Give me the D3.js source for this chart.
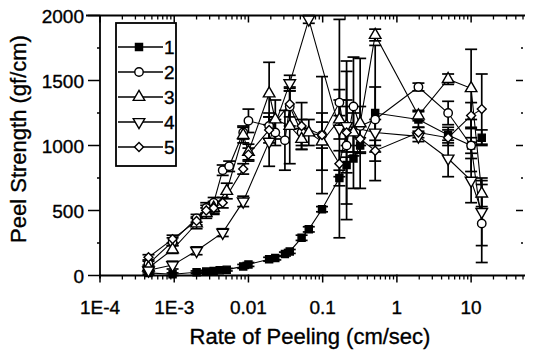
<!DOCTYPE html>
<html>
<head>
<meta charset="utf-8">
<script src="https://cdn.jsdelivr.net/npm/d3@7"></script>
<style>
  body { margin: 0; background: #fff; }
  svg { display: block; font-family: "Liberation Sans", Arial, sans-serif; }
  text { stroke: #000; stroke-width: 0.35px; }
</style>
</head>
<body>
<div id="chart"></div>
<script>
"use strict";

// Series data: rate (cm/sec), peel strength (gf/cm), error (gf/cm)
const x1 = [4.5e-4, 9.5e-4, 2e-3, 2.7e-3, 3.4e-3, 4.1e-3, 5.1e-3, 8.5e-3, 0.01, 0.019, 0.023, 0.031, 0.036, 0.052, 0.065, 0.098, 0.168, 0.21, 0.26, 0.32, 0.51, 1.95, 4.9, 10, 13.9],
  y1 = [20, 10, 25, 30, 35, 40, 45, 70, 85, 125, 135, 165, 185, 290, 355, 510, 750, 850, 900, 1000, 1250, 1200, 1080, 1000, 1060],
  e1 = [15, 10, 10, 10, 10, 10, 10, 15, 15, 15, 15, 15, 15, 20, 20, 20, 60, 60, 230, 60, 520, 60, 60, 60, 60];

const x2 = [4.5e-4, 9.5e-4, 2e-3, 2.7e-3, 3.4e-3, 4.5e-3, 5.5e-3, 8.5e-3, 0.01, 0.019, 0.023, 0.031, 0.036, 0.052, 0.098, 0.168, 0.21, 0.26, 0.32, 0.51, 1.95, 4.9, 10, 13.9],
  y2 = [90, 260, 440, 520, 560, 810, 840, 1100, 1190, 1150, 1100, 1040, 1300, 1100, 1080, 1330, 1000, 1300, 1150, 1200, 1450, 1250, 1000, 400],
  e2 = [20, 30, 30, 40, 40, 40, 40, 50, 90, 100, 100, 230, 150, 100, 100, 100, 570, 380, 150, 250, 30, 90, 200, 300];

const x3 = [4.5e-4, 9.5e-4, 2e-3, 2.7e-3, 3.4e-3, 5.1e-3, 8.5e-3, 0.01, 0.019, 0.023, 0.036, 0.052, 0.065, 0.098, 0.168, 0.21, 0.26, 0.32, 0.51, 1.95, 4.9, 10, 13.9],
  y3 = [60, 200, 400, 480, 520, 650, 1080, 950, 1400, 1200, 1150, 1050, 1100, 1030, 1200, 1150, 1100, 1170, 1850, 1230, 1510, 1440, 630],
  e3 = [20, 30, 40, 40, 50, 60, 60, 60, 240, 150, 290, 80, 100, 220, 150, 150, 150, 500, 45, 40, 40, 300, 100];

const x4 = [4.5e-4, 9.5e-4, 2e-3, 4.5e-3, 8.5e-3, 0.019, 0.036, 0.065, 0.168, 0.21, 0.51, 1.95, 4.9, 10, 13.9],
  y4 = [40, 80, 190, 330, 570, 1030, 1480, 1970, 1130, 1150, 1100, 1070, 900, 730, 490],
  e4 = [20, 30, 30, 30, 40, 190, 60, 30, 840, 200, 100, 40, 140, 170, 260];

const x5 = [4.5e-4, 9.5e-4, 2e-3, 2.7e-3, 3.4e-3, 4.5e-3, 8.5e-3, 0.01, 0.019, 0.036, 0.052, 0.098, 0.168, 0.21, 0.32, 0.51, 1.95, 4.9, 10, 13.9],
  y5 = [140, 280, 420, 500, 520, 560, 820, 930, 1120, 1320, 1150, 1080, 860, 1100, 1050, 960, 1100, 1060, 1230, 1280],
  e5 = [20, 30, 30, 40, 40, 40, 40, 50, 100, 100, 180, 450, 100, 550, 100, 80, 40, 60, 100, 270];

const seriesNames = ["1", "2", "3", "4", "5"];
const xTickValues = [1e-4, 1e-3, 1e-2, 1e-1, 1, 10],
  xTickLabels = ["1E-4", "1E-3", "0.01", "0.1", "1", "10"],
  yTickValues = [0, 500, 1000, 1500, 2000];

const width = 534,
  height = 354;

const plot = { left: 100, right: 523, top: 15.5, bottom: 275.5 };

const x = d3.scaleLog().domain([1e-4, 50]).range([plot.left, plot.right]);
const y = d3.scaleLinear().domain([0, 2000]).range([plot.bottom, plot.top]);

const series = [
  { name: seriesNames[0], xs: x1, ys: y1, es: e1, shape: "square" },
  { name: seriesNames[1], xs: x2, ys: y2, es: e2, shape: "circle" },
  { name: seriesNames[2], xs: x3, ys: y3, es: e3, shape: "triUp" },
  { name: seriesNames[3], xs: x4, ys: y4, es: e4, shape: "triDown" },
  { name: seriesNames[4], xs: x5, ys: y5, es: e5, shape: "diamond" },
].map((s) => ({
  ...s,
  points: s.xs.map((d, i) => ({ x: d, y: s.ys[i], e: s.es[i] })),
}));

const svg = d3
  .select("#chart")
  .append("svg")
  .attr("width", width)
  .attr("height", height)
  .attr("viewBox", [0, 0, width, height]);

function drawMarker(g, shape, cx, cy) {
  // open markers get a white fill, series 1 is solid
  let path;
  if (shape === "square") path = d3.symbol(d3.symbolSquare, 50)();
  else if (shape === "circle") path = d3.symbol(d3.symbolCircle, 56)();
  else if (shape === "triUp" || shape === "triDown") path = d3.symbol(d3.symbolTriangle, 58)();
  else path = d3.symbol(d3.symbolSquare, 40)();

  const rot = shape === "triDown" ? 180 : shape === "diamond" ? 45 : 0;
  g.append("path")
    .attr("d", path)
    .attr("transform", `translate(${cx},${cy}) rotate(${rot})`)
    .attr("fill", shape === "square" ? "#000" : "#fff")
    .attr("stroke", "#000")
    .attr("stroke-width", 1.4);
}

// ---- axes ----------------------------------------------------------------
const axes = svg.append("g").attr("stroke", "#000").attr("fill", "none");

axes.append("line").attr("x1", plot.left).attr("x2", plot.right + 2)
  .attr("y1", plot.bottom).attr("y2", plot.bottom).attr("stroke-width", 1.8);
axes.append("line").attr("x1", plot.left - 14).attr("x2", plot.right + 2)
  .attr("y1", plot.top).attr("y2", plot.top).attr("stroke-width", 2);
axes.append("line").attr("x1", plot.left).attr("x2", plot.left)
  .attr("y1", plot.top).attr("y2", plot.bottom + 3).attr("stroke-width", 1.8);

// minor log ticks for the x axis (2..9 each decade)
const minorX = [];
for (let p = -4; p <= 1; p++) {
  for (let m = 2; m <= 9; m++) {
    const v = m * Math.pow(10, p);
    if (v <= 50) minorX.push(v);
  }
}

minorX.forEach((v) => {
  axes.append("line").attr("x1", x(v)).attr("x2", x(v))
    .attr("y1", plot.bottom).attr("y2", plot.bottom + 4).attr("stroke-width", 1.3);
  axes.append("line").attr("x1", x(v)).attr("x2", x(v))
    .attr("y1", plot.top).attr("y2", plot.top + 4).attr("stroke-width", 1.3);
});
xTickValues.forEach((v) => {
  axes.append("line").attr("x1", x(v)).attr("x2", x(v))
    .attr("y1", plot.bottom - 1).attr("y2", plot.bottom + 7).attr("stroke-width", 1.5);
  axes.append("line").attr("x1", x(v)).attr("x2", x(v))
    .attr("y1", plot.top).attr("y2", plot.top + 7).attr("stroke-width", 1.5);
});

d3.range(0, 2001, 250).forEach((v) => {
  const major = v % 500 === 0;
  axes.append("line").attr("x1", plot.left - (major ? 12 : 3)).attr("x2", plot.left)
    .attr("y1", y(v)).attr("y2", y(v)).attr("stroke-width", 1.5);
  if (v > 0 && v < 2000) {
    axes.append("line").attr("x1", plot.right - (major ? 7 : 2)).attr("x2", plot.right)
      .attr("y1", y(v)).attr("y2", y(v)).attr("stroke-width", 1.5);
  }
});

const labels = svg.append("g").attr("fill", "#000").attr("font-size", 19);

labels.selectAll(".xl")
  .data(xTickValues)
  .join("text")
  .attr("x", (d) => x(d))
  .attr("y", 314)
  .attr("text-anchor", "middle")
  .text((d, i) => xTickLabels[i]);

labels.selectAll(".yl")
  .data(yTickValues)
  .join("text")
  .attr("x", 84)
  .attr("y", (d) => y(d) + 7)
  .attr("text-anchor", "end")
  .text((d) => d);

svg.append("text")
  .attr("x", 310)
  .attr("y", 344)
  .attr("text-anchor", "middle")
  .attr("font-size", 22)
  .text("Rate of Peeling (cm/sec)");

svg.append("text")
  .attr("transform", "translate(26,139) rotate(-90)")
  .attr("text-anchor", "middle")
  .attr("font-size", 22)
  .text("Peel Strength (gf/cm)");

// ---- data ----------------------------------------------------------------
const line = d3.line().x((d) => x(d.x)).y((d) => y(d.y));

const dataLayer = svg.append("g");

series.forEach((s) => {
  dataLayer.append("path")
    .datum(s.points)
    .attr("d", line)
    .attr("fill", "none")
    .attr("stroke", "#000")
    .attr("stroke-width", 1.1);
});

series.forEach((s) => {
  const g = dataLayer.append("g").attr("stroke", "#000").attr("stroke-width", 1.7);
  s.points.forEach((p) => {
    const cx = x(p.x),
      top = y(p.y + p.e),
      bot = y(Math.max(0, p.y - p.e));
    g.append("line").attr("x1", cx).attr("x2", cx).attr("y1", top).attr("y2", bot);
    g.append("line").attr("x1", cx - 6).attr("x2", cx + 6).attr("y1", top).attr("y2", top);
    g.append("line").attr("x1", cx - 6).attr("x2", cx + 6).attr("y1", bot).attr("y2", bot);
  });
});

series.forEach((s) => {
  const g = dataLayer.append("g");
  s.points.forEach((p) => drawMarker(g, s.shape, x(p.x), y(p.y)));
});

// ---- legend --------------------------------------------------------------
const legend = svg.append("g");
legend.append("rect")
  .attr("x", 116).attr("y", 23).attr("width", 60).attr("height", 143)
  .attr("fill", "#fff").attr("stroke", "#000").attr("stroke-width", 1.8);

series.forEach((s, i) => {
  const ly = 47 + i * 25;
  legend.append("line").attr("x1", 118).attr("x2", 163).attr("y1", ly).attr("y2", ly)
    .attr("stroke", "#000").attr("stroke-width", 1.3);
  drawMarker(legend, s.shape, 139, ly);
  legend.append("text").attr("x", 164).attr("y", ly + 7).attr("font-size", 19).text(s.name);
});
</script>
</body>
</html>
